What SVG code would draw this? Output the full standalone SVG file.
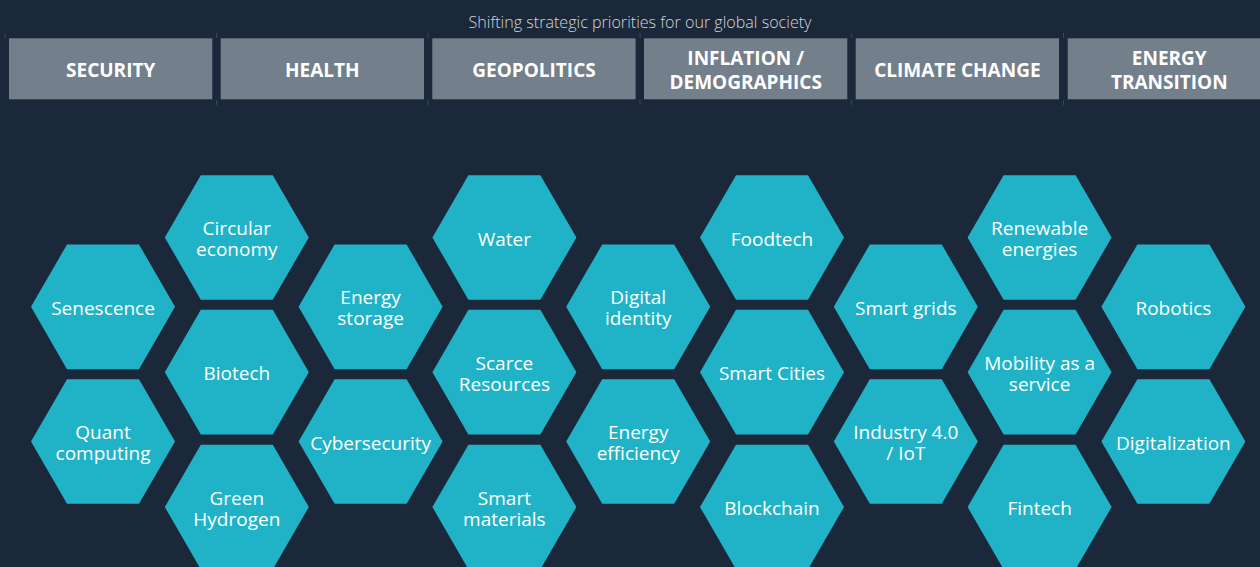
<svg xmlns="http://www.w3.org/2000/svg" xmlns:xlink="http://www.w3.org/1999/xlink" width="1260" height="567" viewBox="0 0 1260 567">
  <defs>
    <style>
      .bg { fill: #1a2839; }
      .head { fill: #737f8b; }
      .tick { stroke: #3a4959; stroke-width: 1; }
      .sub { font-family: "Open Sans", "Liberation Sans", sans-serif; font-weight: 300; font-size: 17px; fill: #d2d6db; text-anchor: middle; }
      .htxt { font-family: "Open Sans", "Liberation Sans", sans-serif; font-weight: 700; font-size: 19px; fill: #ffffff; text-anchor: middle; }
      .hex { fill: #20b3c8; }
      .lbl { font-family: "Open Sans", "Liberation Sans", sans-serif; font-size: 19px; fill: #ffffff; text-anchor: middle; }
    </style>
    <!-- flat-topped regular hexagon, circumradius 72 -->
    <polygon id="hex" class="hex" points="-72,0 -36,-62.35 36,-62.35 72,0 36,62.35 -36,62.35"/>
  </defs>

  <rect class="bg" x="0" y="0" width="1260" height="567"/>

  <text class="sub" x="640" y="28" textLength="343" lengthAdjust="spacingAndGlyphs">Shifting strategic priorities for our global society</text>

  <!-- priority header bar -->
  <g id="headers">
    <g class="ticks">
      <line class="tick" x1="5" y1="33" x2="5" y2="38"/>
      <line class="tick" x1="216.5" y1="33" x2="216.5" y2="38"/>
      <line class="tick" x1="216.5" y1="100" x2="216.5" y2="105"/>
      <line class="tick" x1="428" y1="33" x2="428" y2="38"/>
      <line class="tick" x1="428" y1="100" x2="428" y2="105"/>
      <line class="tick" x1="640" y1="33" x2="640" y2="38"/>
      <line class="tick" x1="640" y1="100" x2="640" y2="105"/>
      <line class="tick" x1="851.7" y1="33" x2="851.7" y2="38"/>
      <line class="tick" x1="851.7" y1="100" x2="851.7" y2="105"/>
      <line class="tick" x1="1063.5" y1="33" x2="1063.5" y2="38"/>
      <line class="tick" x1="1063.5" y1="100" x2="1063.5" y2="105"/>
    </g>
    <g id="h-security">
      <rect class="head" x="9" y="38.3" width="203.3" height="61"/>
      <text class="htxt" x="110.7" y="77.3">SECURITY</text>
    </g>
    <g id="h-health">
      <rect class="head" x="220.7" y="38.3" width="203.3" height="61"/>
      <text class="htxt" x="322.3" y="77.3">HEALTH</text>
    </g>
    <g id="h-geopolitics">
      <rect class="head" x="432.3" y="38.3" width="203.3" height="61"/>
      <text class="htxt" x="534" y="77.3">GEOPOLITICS</text>
    </g>
    <g id="h-inflation">
      <rect class="head" x="644" y="38.3" width="203.3" height="61"/>
      <text class="htxt" x="745.7" y="65"><tspan x="745.7">INFLATION /</tspan><tspan x="745.7" dy="23.5">DEMOGRAPHICS</tspan></text>
    </g>
    <g id="h-climate">
      <rect class="head" x="855.7" y="38.3" width="203.3" height="61"/>
      <text class="htxt" x="957.4" y="77.3">CLIMATE CHANGE</text>
    </g>
    <g id="h-energy">
      <rect class="head" x="1067.7" y="38.3" width="203.3" height="61"/>
      <text class="htxt" x="1169.3" y="65"><tspan x="1169.3">ENERGY</tspan><tspan x="1169.3" dy="23.5">TRANSITION</tspan></text>
    </g>
  </g>

  <!-- trend honeycomb: columns every 133.8px -->
  <g id="trends">
    <!-- column 1 -->
    <g id="n-senescence" transform="translate(103,306.8)">
      <use xlink:href="#hex"/>
      <text class="lbl" y="8">Senescence</text>
    </g>
    <g id="n-quant" transform="translate(103,441.5)">
      <use xlink:href="#hex"/>
      <text class="lbl" y="-2.5"><tspan x="0">Quant</tspan><tspan x="0" dy="21">computing</tspan></text>
    </g>
    <!-- column 2 -->
    <g id="n-circular" transform="translate(236.8,237.5)">
      <use xlink:href="#hex"/>
      <text class="lbl" y="-2.5"><tspan x="0">Circular</tspan><tspan x="0" dy="21">economy</tspan></text>
    </g>
    <g id="n-biotech" transform="translate(236.8,372.2)">
      <use xlink:href="#hex"/>
      <text class="lbl" y="8">Biotech</text>
    </g>
    <g id="n-hydrogen" transform="translate(236.8,507)">
      <use xlink:href="#hex"/>
      <text class="lbl" y="-2.5"><tspan x="0">Green</tspan><tspan x="0" dy="21">Hydrogen</tspan></text>
    </g>
    <!-- column 3 -->
    <g id="n-storage" transform="translate(370.6,306.8)">
      <use xlink:href="#hex"/>
      <text class="lbl" y="-2.5"><tspan x="0">Energy</tspan><tspan x="0" dy="21">storage</tspan></text>
    </g>
    <g id="n-cyber" transform="translate(370.6,441.5)">
      <use xlink:href="#hex"/>
      <text class="lbl" y="8">Cybersecurity</text>
    </g>
    <!-- column 4 -->
    <g id="n-water" transform="translate(504.4,237.5)">
      <use xlink:href="#hex"/>
      <text class="lbl" y="8">Water</text>
    </g>
    <g id="n-scarce" transform="translate(504.4,372.2)">
      <use xlink:href="#hex"/>
      <text class="lbl" y="-2.5"><tspan x="0">Scarce</tspan><tspan x="0" dy="21">Resources</tspan></text>
    </g>
    <g id="n-materials" transform="translate(504.4,507)">
      <use xlink:href="#hex"/>
      <text class="lbl" y="-2.5"><tspan x="0">Smart</tspan><tspan x="0" dy="21">materials</tspan></text>
    </g>
    <!-- column 5 -->
    <g id="n-identity" transform="translate(638.2,306.8)">
      <use xlink:href="#hex"/>
      <text class="lbl" y="-2.5"><tspan x="0">Digital</tspan><tspan x="0" dy="21">identity</tspan></text>
    </g>
    <g id="n-efficiency" transform="translate(638.2,441.5)">
      <use xlink:href="#hex"/>
      <text class="lbl" y="-2.5"><tspan x="0">Energy</tspan><tspan x="0" dy="21">efficiency</tspan></text>
    </g>
    <!-- column 6 -->
    <g id="n-foodtech" transform="translate(772,237.5)">
      <use xlink:href="#hex"/>
      <text class="lbl" y="8">Foodtech</text>
    </g>
    <g id="n-cities" transform="translate(772,372.2)">
      <use xlink:href="#hex"/>
      <text class="lbl" y="8">Smart Cities</text>
    </g>
    <g id="n-blockchain" transform="translate(772,507)">
      <use xlink:href="#hex"/>
      <text class="lbl" y="8">Blockchain</text>
    </g>
    <!-- column 7 -->
    <g id="n-grids" transform="translate(905.8,306.8)">
      <use xlink:href="#hex"/>
      <text class="lbl" y="8">Smart grids</text>
    </g>
    <g id="n-industry" transform="translate(905.8,441.5)">
      <use xlink:href="#hex"/>
      <text class="lbl" y="-2.5"><tspan x="0">Industry 4.0</tspan><tspan x="0" dy="21">/ IoT</tspan></text>
    </g>
    <!-- column 8 -->
    <g id="n-renewable" transform="translate(1039.6,237.5)">
      <use xlink:href="#hex"/>
      <text class="lbl" y="-2.5"><tspan x="0">Renewable</tspan><tspan x="0" dy="21">energies</tspan></text>
    </g>
    <g id="n-mobility" transform="translate(1039.6,372.2)">
      <use xlink:href="#hex"/>
      <text class="lbl" y="-2.5"><tspan x="0">Mobility as a</tspan><tspan x="0" dy="21">service</tspan></text>
    </g>
    <g id="n-fintech" transform="translate(1039.6,507)">
      <use xlink:href="#hex"/>
      <text class="lbl" y="8">Fintech</text>
    </g>
    <!-- column 9 -->
    <g id="n-robotics" transform="translate(1173.4,306.8)">
      <use xlink:href="#hex"/>
      <text class="lbl" y="8">Robotics</text>
    </g>
    <g id="n-digitalization" transform="translate(1173.4,441.5)">
      <use xlink:href="#hex"/>
      <text class="lbl" y="8">Digitalization</text>
    </g>
  </g>
</svg>
